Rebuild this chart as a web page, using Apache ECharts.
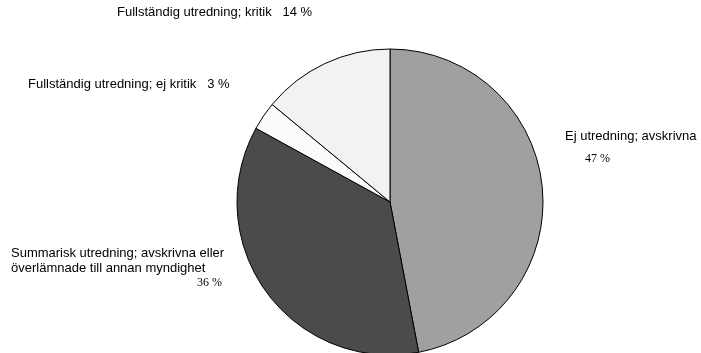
<!DOCTYPE html>
<html>
<head>
<meta charset="utf-8">
<script src="https://cdn.jsdelivr.net/npm/echarts@6/dist/echarts.min.js"></script>
<style>
  html, body { margin: 0; padding: 0; background: #fff; }
  #chart { width: 701px; height: 353px; }
</style>
</head>
<body>
<div id="chart"></div>
<script>
// Utfall av ärenden, andel i procent (medurs från klockan tolv)
const categories = [
  'Ej utredning; avskrivna',
  'Summarisk utredning; avskrivna eller\növerlämnade till annan myndighet',
  'Fullständig utredning; ej kritik',
  'Fullständig utredning; kritik'
];
const shares = [47, 36, 3, 14];
const sliceColors = ['#a0a0a0', '#4b4b4b', '#fbfbfb', '#f2f2f2'];

const SANS = '"Liberation Sans", Arial, sans-serif';
const SERIF = '"Liberation Serif", "Times New Roman", serif';

// Text placement for each slice: name block and percentage
const labelLayout = [
  { name: { x: 565, y: 137 }, pct: { x: 585, y: 160, align: 'left', font: SERIF, size: 12 } },
  { name: { x: 11, y: 254 }, pct: { x: 222, y: 284, align: 'right', font: SERIF, size: 12 } },
  { name: { x: 28, y: 86 }, inline: true },
  { name: { x: 117, y: 14 }, inline: true }
];

const graphics = [];
categories.forEach((name, i) => {
  const lay = labelLayout[i];
  if (lay.inline) {
    graphics.push({
      type: 'text', left: lay.name.x, top: lay.name.y - 8, silent: true,
      style: { text: name + '   ' + shares[i] + ' %', font: '13px ' + SANS, fill: '#000' }
    });
  } else {
    graphics.push({
      type: 'text', left: lay.name.x, top: lay.name.y - 8, silent: true,
      style: { text: name, font: '13px ' + SANS, fill: '#000', lineHeight: 15 }
    });
    const p = { text: shares[i] + ' %', font: lay.pct.size + 'px ' + lay.pct.font, fill: '#000' };
    const g = { type: 'text', top: lay.pct.y - 7, silent: true, style: p };
    if (lay.pct.align === 'right') g.right = 701 - lay.pct.x; else g.left = lay.pct.x;
    graphics.push(g);
  }
});

const chart = echarts.init(document.getElementById('chart'), null, { renderer: 'canvas' });
chart.setOption({
  animation: false,
  backgroundColor: '#fff',
  graphic: graphics,
  series: [{
    type: 'pie',
    center: [390, 202],
    radius: 153,
    startAngle: 90,
    clockwise: true,
    avoidLabelOverlap: false,
    label: { show: false },
    labelLine: { show: false },
    emphasis: { disabled: true },
    itemStyle: { borderColor: '#000', borderWidth: 1 },
    data: categories.map((c, i) => ({
      name: c, value: shares[i], itemStyle: { color: sliceColors[i] }
    }))
  }]
});
</script>
</body>
</html>
